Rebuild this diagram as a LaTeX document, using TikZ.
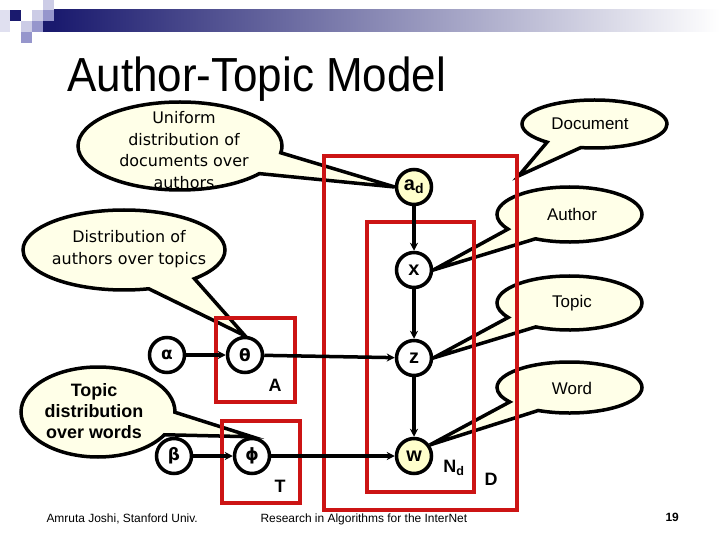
\documentclass[tikz,border=0pt]{standalone}
\usepackage{fontspec}
\setmainfont{Liberation Sans}
\newfontfamily\comicfont{DejaVu Sans}
\usetikzlibrary{shapes.callouts}
\usetikzlibrary{arrows.meta}

\definecolor{navy}{RGB}{26,26,110}
\definecolor{lavlight}{RGB}{204,204,230}
\definecolor{lavmid}{RGB}{150,150,204}
\definecolor{platered}{RGB}{204,20,20}
\definecolor{bubcream}{RGB}{255,255,232}
\definecolor{varcream}{RGB}{255,255,204}

\pgfdeclarelayer{bubbles}
\pgfsetlayers{bubbles,main}

\begin{document}
\begin{tikzpicture}[
      x=1bp, y=-1bp, >=Stealth,
      plate/.style={draw=platered, line width=3.5bp, inner sep=0pt},
      platelab/.style={font=\bfseries\fontsize{18}{18}\selectfont},
      var/.style={circle, draw, line width=3.5bp, minimum size=35bp, inner sep=0pt,
                  fill=white, font=\bfseries\fontsize{20}{20}\selectfont},
      obs/.style={var, fill=varcream},
      greek/.style={font=\comicfont\bfseries\fontsize{17}{17}\selectfont},
      edge/.style={line width=3.5bp, -{Stealth[length=8bp, width=8bp]}},
      bubble/.style={ellipse callout, draw, line width=3.5bp, fill=bubcream,
                     inner sep=0pt, callout pointer arc=30},
      comictext/.style={align=center, font=\comicfont\fontsize{16}{21.5}\selectfont},
      boldtext/.style={align=center, font=\bfseries\fontsize{18}{21}\selectfont},
      plaintext/.style={align=center, font=\fontsize{17}{17}\selectfont},
      foot/.style={anchor=base west, font=\fontsize{12}{12}\selectfont}]
      \useasboundingbox (0,0) rectangle (720,540);
      % slide header
      \shade[left color=navy, right color=white] (54,10) rectangle (720,32);
      \fill[lavlight!60] (0,10) rectangle (10,32);
      \fill[navy] (10,10) rectangle (21,21);
      \fill[lavlight] (32,10) rectangle (43,21);
      \fill[lavlight] (43,0) rectangle (54,10);
      \fill[lavmid] (43,10) rectangle (54,21);
      \fill[navy] (43,21) rectangle (54,32);
      \fill[lavlight] (21,21) rectangle (32,32);
      \fill[lavmid] (32,21) rectangle (43,32);
      \fill[lavmid] (21,32) rectangle (32,43);
      \node[anchor=base west, inner sep=0pt] (title) at (67,92)
        {\fontsize{48}{48}\selectfont\scalebox{0.92}[1]{Author-Topic Model}};
      % plates
      \node[plate, minimum width=193bp, minimum height=354bp] (D) at (420.5,333) {};
      \node[plate, minimum width=107bp, minimum height=270bp] (Nd) at (420.5,357) {};
      \node[plate, minimum width=79bp, minimum height=84bp] (A) at (255.5,360) {};
      \node[plate, minimum width=78bp, minimum height=82bp] (T) at (261,462) {};
      \node[platelab] at (275,385) {A};
      \node[platelab] at (280,486) {T};
      \node[platelab] at (454,468) {N\textsubscript{d}};
      \node[platelab] at (491,479) {D};
      % variables
      \node[obs] (ad) at (414,187) {a\textsubscript{d}};
      \node[var] (x) at (414,270) {x};
      \node[var] (z) at (414,358) {z};
      \node[obs] (w) at (414,456) {w};
      \node[var, greek] (alpha) at (167,355) {α};
      \node[var, greek] (theta) at (245,355) {θ};
      \node[var, greek] (beta) at (174,456) {β};
      \node[var, greek] (phi) at (252,456) {ϕ};
      \draw[edge] (ad) -- (x);
      \draw[edge] (x) -- (z);
      \draw[edge] (z) -- (w);
      \draw[edge] (alpha) -- (theta);
      \draw[edge] (theta) -- (z);
      \draw[edge] (beta) -- (phi);
      \draw[edge] (phi) -- (w);
      % callouts sit behind the plates
      \begin{pgfonlayer}{bubbles}
        \node[bubble, minimum width=204bp, minimum height=88bp,
              callout absolute pointer={(ad.west)}] (unif) at (180,146) {};
        \node[comictext] at (184,150) {Uniform\\distribution of\\documents over\\authors};
        \node[bubble, minimum width=202bp, minimum height=80bp,
              callout absolute pointer={(theta.north)}] (authtop) at (124,250) {};
        \node[comictext] at (129,249) {Distribution of\\authors over topics};
        \node[bubble, minimum width=154bp, minimum height=90bp,
              callout absolute pointer={(phi.north)}] (topword) at (98,412) {};
        \node[boldtext] at (94,411) {Topic\\distribution\\over words};
        \node[bubble, minimum width=145bp, minimum height=48bp,
              callout absolute pointer={(D.58)}] (doc) at (594.5,124) {};
        \node[plaintext] at (590,124) {Document};
        \node[bubble, minimum width=145bp, minimum height=55bp,
              callout absolute pointer={(x.east)}] (auth) at (569.5,214.5) {};
        \node[plaintext] at (572,214) {Author};
        \node[bubble, minimum width=145bp, minimum height=54bp,
              callout absolute pointer={(z.east)}] (top) at (569.5,303) {};
        \node[plaintext] at (572,303) {Topic};
        \node[bubble, minimum width=145bp, minimum height=51bp,
              callout absolute pointer={(w.35)}] (word) at (569.5,387.5) {};
        \node[plaintext] at (572,388) {Word};
      \end{pgfonlayer}
      % footer
      \node[foot] (auth) at (43,522) {Amruta Joshi, Stanford Univ.};
      \node[foot] (venue) at (257,522) {Research in Algorithms for the InterNet};
      \node[foot, font=\bfseries\fontsize{12}{12}\selectfont] (page) at (662,521) {19};
\end{tikzpicture}
\end{document}
